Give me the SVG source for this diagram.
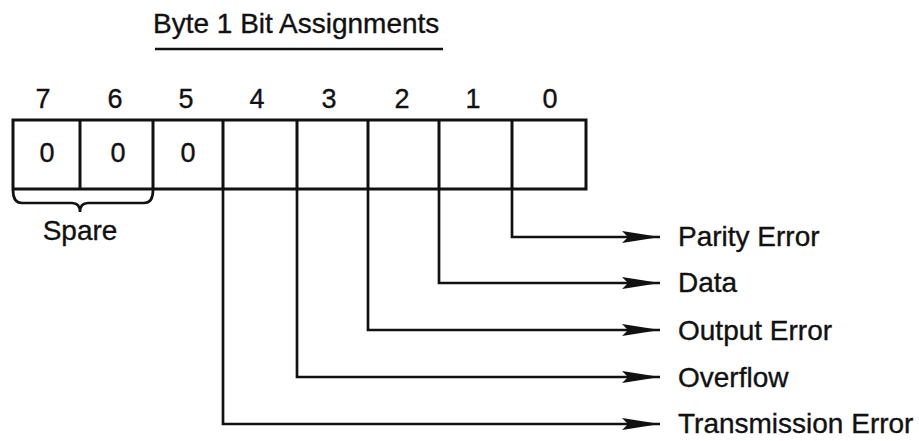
<svg xmlns="http://www.w3.org/2000/svg" width="919" height="441" viewBox="0 0 919 441">
<defs>
<style>
text{font-family:"Liberation Sans",Arial,sans-serif;fill:#111;stroke:#111;stroke-width:0.35;}
.t{font-size:28px;}
.d{font-size:27px;text-anchor:middle;}
.box{fill:none;stroke:#111;stroke-width:3;}
.ln{fill:none;stroke:#111;stroke-width:2.7;}
</style>
<marker id="ah" markerUnits="userSpaceOnUse" markerWidth="40" markerHeight="14" refX="38" refY="7" orient="auto">
<path d="M0,1 L38,7 L0,13 L6,7 Z" fill="#111"/>
</marker>
</defs>
<g id="title">
<text class="t" x="153" y="33">Byte 1 Bit Assignments</text>
<line x1="155" y1="49" x2="443" y2="49" stroke="#111" stroke-width="2.7"/>
</g>
<g id="bitnumbers">
<text class="d" x="43" y="108">7</text>
<text class="d" x="115" y="108">6</text>
<text class="d" x="186" y="108">5</text>
<text class="d" x="257" y="108">4</text>
<text class="d" x="329" y="108">3</text>
<text class="d" x="402" y="108">2</text>
<text class="d" x="473" y="108">1</text>
<text class="d" x="550" y="108">0</text>
</g>
<g id="byte">
<rect class="box" x="13" y="120" width="573" height="69"/>
<line class="box" x1="80" y1="120" x2="80" y2="189"/>
<line class="box" x1="153" y1="120" x2="153" y2="189"/>
<line class="box" x1="223" y1="120" x2="223" y2="189"/>
<line class="box" x1="297" y1="120" x2="297" y2="189"/>
<line class="box" x1="368" y1="120" x2="368" y2="189"/>
<line class="box" x1="439" y1="120" x2="439" y2="189"/>
<line class="box" x1="512" y1="120" x2="512" y2="189"/>
<text class="d" x="47" y="162">0</text>
<text class="d" x="118" y="162">0</text>
<text class="d" x="188" y="162">0</text>
</g>
<g id="spare">
<path class="ln" d="M13,190 Q13,203 22,203 L72,203 Q80,203 80,212 Q80,203 88,203 L144,203 Q153,203 153,190" stroke-width="3"/>
<text class="t" x="80" y="240" text-anchor="middle">Spare</text>
</g>
<g id="connectors">
<path class="ln" d="M512,189 V237 H660" marker-end="url(#ah)"/>
<path class="ln" d="M439,189 V283 H660" marker-end="url(#ah)"/>
<path class="ln" d="M368,189 V330 H660" marker-end="url(#ah)"/>
<path class="ln" d="M297,189 V377 H660" marker-end="url(#ah)"/>
<path class="ln" d="M223,189 V424 H660" marker-end="url(#ah)"/>
</g>
<g id="labels">
<text class="t" x="678" y="246">Parity Error</text>
<text class="t" x="678" y="292">Data</text>
<text class="t" x="678" y="340">Output Error</text>
<text class="t" x="678" y="387">Overflow</text>
<text class="t" x="678" y="433">Transmission Error</text>
</g>
</svg>
